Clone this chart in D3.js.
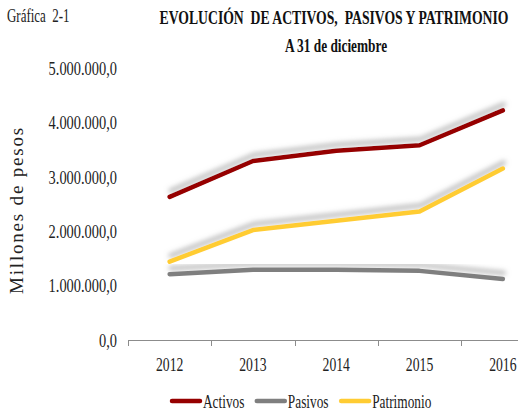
<!DOCTYPE html>
<html>
<head>
<meta charset="utf-8">
<script src="https://cdn.jsdelivr.net/npm/d3@7"></script>
<style>
  body { margin: 0; background: #fff; }
  svg { display: block; }
</style>
</head>
<body>
<svg id="chart" width="518" height="413"></svg>
<script>
const years = ['2012', '2013', '2014', '2015', '2016'];
const activos = [2640000, 3300000, 3490000, 3590000, 4230000];
const pasivos = [1220000, 1300000, 1300000, 1280000, 1130000];
const patrimonio = [1450000, 2030000, 2200000, 2370000, 3160000];
const yTicks = [0, 1000000, 2000000, 3000000, 4000000, 5000000];

const series = [
    { name: 'Activos', values: activos, color: '#960000' },
    { name: 'Pasivos', values: pasivos, color: '#7f7f7f' },
    { name: 'Patrimonio', values: patrimonio, color: '#ffcc33' }
];

const svg = d3.select('#chart');
const serif = 'Liberation Serif';
const squeeze = 0.72;

// the original uses a narrow Times, squeeze glyphs horizontally
function condense(sel, k) {
    k = k || squeeze;
    sel.each(function() {
        const len = this.getComputedTextLength();
        d3.select(this)
            .attr('textLength', len * k)
            .attr('lengthAdjust', 'spacingAndGlyphs');
    });
}

const x = d3.scaleBand()
    .domain(years)
    .range([128, 128 + 83.3 * years.length]);

const y = d3.scaleLinear()
    .domain([0, 5000000])
    .range([340.5, 68.5]);

const es = d3.formatLocale({ decimal: ',', thousands: '.', grouping: [3], currency: ['$', ''] });
const fmt = es.format(',.1f');

// shadow filter
const defs = svg.append('defs');
const f = defs.append('filter')
    .attr('id', 'shadow')
    .attr('x', '-20%').attr('y', '-60%')
    .attr('width', '140%').attr('height', '220%');
f.append('feGaussianBlur').attr('in', 'SourceAlpha').attr('stdDeviation', 2.4).attr('result', 'blur');
f.append('feOffset').attr('in', 'blur').attr('dx', 1).attr('dy', -6).attr('result', 'off');
f.append('feFlood').attr('flood-color', '#a0a0a0').attr('flood-opacity', 0.7);
f.append('feComposite').attr('in2', 'off').attr('operator', 'in').attr('result', 'sh');
const merge = f.append('feMerge');
merge.append('feMergeNode').attr('in', 'sh');
merge.append('feMergeNode').attr('in', 'SourceGraphic');

// titles
svg.append('text')
    .attr('x', 7).attr('y', 22)
    .style('font-family', serif).style('font-size', '18px').style('fill', '#222')
    .style('white-space', 'pre')
    .text('Gráfica  2-1')
    .call(condense);

svg.append('text')
    .attr('x', 334).attr('y', 24)
    .attr('text-anchor', 'middle')
    .style('font-family', serif).style('font-size', '18.5px').style('font-weight', 'bold').style('fill', '#111')
    .style('white-space', 'pre')
    .text('EVOLUCIÓN  DE ACTIVOS,  PASIVOS Y PATRIMONIO')
    .call(condense, 0.74);

svg.append('text')
    .attr('x', 336).attr('y', 52)
    .attr('text-anchor', 'middle')
    .style('font-family', serif).style('font-size', '18.5px').style('font-weight', 'bold').style('fill', '#111')
    .text('A 31 de diciembre')
    .call(condense);

// y axis title
svg.append('text')
    .attr('transform', 'translate(23,210) rotate(-90)')
    .attr('text-anchor', 'middle')
    .style('font-family', serif).style('font-size', '19px').style('letter-spacing', '1.8px').style('fill', '#222')
    .text('Millones de pesos');

// y axis labels
const yAxis = svg.append('g')
    .attr('transform', 'translate(128,0)')
    .call(d3.axisLeft(y).tickValues(yTicks).tickFormat(fmt).tickSize(0).tickPadding(11));
yAxis.select('.domain').remove();
yAxis.selectAll('text')
    .style('font-family', serif).style('font-size', '18px').style('fill', '#222')
    .call(condense, 0.8);

// x axis: line with ticks at band edges, labels at centres
const xg = svg.append('g');
xg.append('line')
    .attr('x1', x.range()[0]).attr('x2', 518)
    .attr('y1', 340.5).attr('y2', 340.5)
    .style('stroke', '#8c8c8c').style('stroke-width', 1);
xg.selectAll('.edge')
    .data(years)
    .enter()
    .append('line')
    .attr('class', 'edge')
    .attr('x1', d => Math.round(x(d)) + 0.5).attr('x2', d => Math.round(x(d)) + 0.5)
    .attr('y1', 340.5).attr('y2', 346)
    .style('stroke', '#8c8c8c').style('stroke-width', 1);
xg.selectAll('.yr')
    .data(years)
    .enter()
    .append('text')
    .attr('class', 'yr')
    .attr('x', d => x(d) + x.bandwidth() / 2)
    .attr('y', 370.5)
    .attr('text-anchor', 'middle')
    .style('font-family', serif).style('font-size', '19px').style('fill', '#222')
    .text(d => d)
    .call(condense);

// lines
const line = d3.line()
    .x((d, i) => x(years[i]) + x.bandwidth() / 2)
    .y(d => y(d));

svg.append('g').selectAll('path')
    .data(series)
    .enter()
    .append('path')
    .attr('d', d => line(d.values))
    .attr('filter', 'url(#shadow)')
    .style('fill', 'none')
    .style('stroke', d => d.color)
    .style('stroke-width', 4.5)
    .style('stroke-linejoin', 'round')
    .style('stroke-linecap', 'round');

// legend
let lx = 172;
const legend = svg.append('g');
series.forEach(s => {
    legend.append('line')
        .attr('x1', lx).attr('x2', lx + 28)
        .attr('y1', 401).attr('y2', 401)
        .style('stroke', s.color).style('stroke-width', 4.5)
        .style('stroke-linecap', 'round');
    const t = legend.append('text')
        .attr('x', lx + 31).attr('y', 407.5)
        .style('font-family', serif).style('font-size', '18.5px').style('fill', '#222')
        .text(s.name)
        .call(condense);
    lx += 31 + t.node().getComputedTextLength() * squeeze + 24;
});
</script>
</body>
</html>
